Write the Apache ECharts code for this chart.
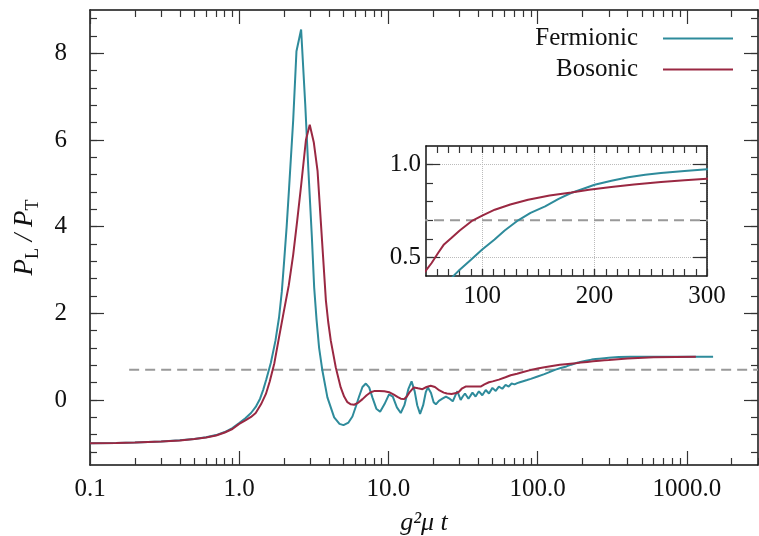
<!DOCTYPE html>
<html>
<head>
<meta charset="utf-8">
<script src="https://cdn.jsdelivr.net/npm/echarts@6.0.0/dist/echarts.min.js"></script>
<style>
  html, body { margin: 0; padding: 0; background: #fff; }
  #chart { width: 759px; height: 536px; }
</style>
</head>
<body>
<div id="chart"></div>
<script>
// data: [g^2 mu t, P_L/P_T]
const fermionic = [
  [0.1, -1.0], [0.15, -0.99], [0.2, -0.98], [0.3, -0.96], [0.4, -0.93], [0.5, -0.9],
  [0.6, -0.86], [0.7, -0.81], [0.8, -0.74], [0.9, -0.65], [1.0, -0.53], [1.1, -0.42],
  [1.2, -0.3], [1.29, -0.16], [1.38, 0.03], [1.45, 0.24], [1.52, 0.48], [1.63, 0.86],
  [1.75, 1.37], [1.85, 1.91], [1.93, 2.5], [2.0, 3.2], [2.08, 4.0], [2.16, 4.9],
  [2.3, 6.45], [2.42, 8.05], [2.6, 8.55], [2.77, 6.83], [2.91, 5.29], [3.07, 3.75],
  [3.18, 2.6], [3.3, 1.85], [3.43, 1.21], [3.61, 0.68], [3.9, 0.06], [4.33, -0.4],
  [4.7, -0.55], [5.0, -0.58], [5.4, -0.52], [5.74, -0.38], [6.05, -0.15], [6.36, 0.08],
  [6.7, 0.3], [7.06, 0.38], [7.43, 0.29], [7.83, 0.05], [8.3, -0.2], [8.8, -0.27],
  [9.4, -0.1], [10.1, 0.13], [10.7, 0.08], [11.4, -0.17], [12.1, -0.3], [12.8, -0.12],
  [13.6, 0.25], [14.3, 0.43], [15.0, 0.2], [15.6, -0.12], [16.3, -0.32], [17.1, -0.12],
  [17.8, 0.18], [18.4, 0.29], [19.3, 0.16], [20.1, -0.05], [20.8, -0.1], [21.8, -0.02],
  [23.0, 0.03], [24.3, 0.08], [25.5, 0.04], [27.0, -0.03], [28.2, 0.12], [29.0, 0.2],
  [30.5, 0.0], [31.5, 0.08], [32.6, 0.15], [34.4, 0.03], [35.5, 0.1], [36.6, 0.17],
  [38.4, 0.08], [40.4, 0.2], [42.6, 0.11], [44.9, 0.23], [47.2, 0.15], [49.8, 0.28],
  [52.4, 0.21], [55, 0.31], [58, 0.26], [61, 0.35], [64, 0.31], [67, 0.38], [70, 0.36],
  [73, 0.39], [76, 0.41], [80, 0.434], [85, 0.461], [90, 0.488], [100, 0.543],
  [111, 0.597], [120, 0.645], [132, 0.7], [143, 0.74], [156, 0.775], [168, 0.815],
  [179, 0.847], [190, 0.87], [200, 0.891], [215, 0.913], [230, 0.932], [245, 0.945],
  [259, 0.954], [280, 0.966], [300, 0.975], [350, 0.99], [420, 1.0], [600, 1.0],
  [1000, 1.0], [1500, 1.0]
];

const bosonic = [
  [0.1, -1.0], [0.15, -0.99], [0.2, -0.98], [0.3, -0.96], [0.4, -0.935], [0.5, -0.9],
  [0.6, -0.865], [0.7, -0.82], [0.8, -0.75], [0.9, -0.67], [1.0, -0.55], [1.1, -0.47],
  [1.2, -0.39], [1.29, -0.3], [1.4, -0.1], [1.51, 0.14], [1.6, 0.42], [1.72, 0.85],
  [1.85, 1.45], [1.98, 2.0], [2.15, 2.65], [2.3, 3.35], [2.45, 4.15], [2.6, 4.95],
  [2.8, 6.0], [2.97, 6.35], [3.16, 5.95], [3.35, 5.29], [3.52, 4.14], [3.65, 3.3],
  [3.81, 2.3], [3.95, 1.8], [4.11, 1.37], [4.44, 0.75], [4.79, 0.29], [5.05, 0.08],
  [5.31, -0.05], [5.6, -0.1], [5.89, -0.11], [6.3, -0.06], [6.71, 0.02], [7.15, 0.11],
  [7.61, 0.18], [8.1, 0.21], [8.68, 0.21], [9.4, 0.2], [10.1, 0.18], [10.8, 0.13],
  [11.5, 0.07], [12.1, 0.03], [12.7, 0.02], [13.3, 0.08], [13.8, 0.17], [14.8, 0.29],
  [15.8, 0.27], [16.9, 0.25], [18.0, 0.3], [19.2, 0.33], [20.5, 0.3], [22.0, 0.22],
  [23.5, 0.17], [24.7, 0.15], [26.5, 0.14], [28.5, 0.16], [29.7, 0.19], [31.0, 0.26],
  [32.9, 0.31], [37.0, 0.31], [41.5, 0.31], [44.0, 0.36], [47.2, 0.41], [50, 0.43],
  [55, 0.47], [60.9, 0.525], [66, 0.57], [72.8, 0.606], [80, 0.645], [90.5, 0.695],
  [100, 0.725], [111.2, 0.757], [125, 0.785], [140.8, 0.811], [160, 0.833], [179.3, 0.85],
  [195, 0.864], [214.8, 0.879], [235, 0.893], [259.1, 0.906], [280, 0.915], [300, 0.923],
  [400, 0.96], [600, 0.985], [850, 0.995], [1150, 1.0]
];

// horizontal reference line at 0.7
const threshold = [[0.183, 0.7], [3000, 0.7]];

// tick values
const xMajorTicks = [0.1, 1, 10, 100, 1000];
const xMinorTicks = [0.2, 0.3, 0.4, 0.5, 0.6, 0.7, 0.8, 0.9,
  2, 3, 4, 5, 6, 7, 8, 9, 20, 30, 40, 50, 60, 70, 80, 90,
  200, 300, 400, 500, 600, 700, 800, 900, 2000, 3000];
const yMajorTicks = [0, 2, 4, 6, 8];
const yMinorTicks = [-1.2, -0.8, -0.4, 0, 0.4, 0.8, 1.2, 1.6, 2, 2.4, 2.8, 3.2, 3.6, 4,
  4.4, 4.8, 5.2, 5.6, 6, 6.4, 6.8, 7.2, 7.6, 8, 8.4, 8.8];
const insetXMajor = [100, 200, 300];
const insetXMinor = [60, 70, 80, 90, 100, 110, 120, 130, 140, 150, 160, 170, 180, 190, 200,
  210, 220, 230, 240, 250, 260, 270, 280, 290];
const insetYMajor = [0.5, 1.0];
const insetYMinor = [0.5, 0.6, 0.7, 0.8, 0.9, 1.0];

const FONT = 'Liberation Serif';
const TEAL = '#2e8b9b';
const RED = '#9a2842';

const chart = echarts.init(document.getElementById('chart'));

const noLine = { show: false, onZero: false };
const axisLine = { show: true, onZero: false, lineStyle: { color: '#111', width: 1.5 } };

function tickAxis(base, ticks, len, extra) {
  return Object.assign({
    axisLine: noLine,
    axisLabel: { show: false },
    splitLine: { show: false },
    axisTick: { show: true, inside: true, length: len, customValues: ticks,
      lineStyle: { color: '#333', width: 1.2 } }
  }, base, extra || {});
}

const mainX = { type: 'log', logBase: 10, min: 0.1, max: 3000, gridIndex: 0 };
const mainY = { type: 'value', min: -1.5, max: 9, gridIndex: 0 };
const insetX = { type: 'value', min: 50, max: 300, gridIndex: 1 };
const insetY = { type: 'value', min: 0.4, max: 1.1, gridIndex: 1 };

const option = {
  backgroundColor: '#fff',
  animation: false,
  grid: [
    { left: 90, top: 10, right: 1, bottom: 71, outerBoundsMode: 'none', containLabel: false },
    { left: 426, top: 146, width: 281, height: 130, outerBoundsMode: 'none', containLabel: false,
      show: true, backgroundColor: '#fff', borderWidth: 0 }
  ],
  legend: {
    data: ['Fermionic', 'Bosonic'],
    orient: 'vertical',
    align: 'right',
    right: 26,
    top: 26,
    padding: 0,
    icon: 'rect',
    itemWidth: 70,
    itemHeight: 2,
    itemGap: 6,
    textStyle: { fontFamily: FONT, fontSize: 25, color: '#111', padding: [0, 20, 0, 0] }
  },
  xAxis: [
    tickAxis(mainX, xMajorTicks, 14, {
      position: 'bottom',
      axisLine: axisLine,
      name: 'g²μ t',
      nameLocation: 'middle',
      nameGap: 45,
      nameTextStyle: { fontFamily: FONT, fontSize: 26, fontStyle: 'italic', color: '#111' },
      axisLabel: {
        show: true, customValues: xMajorTicks, margin: 12,
        fontFamily: FONT, fontSize: 25, color: '#111',
        formatter: v => Number(v).toFixed(1)
      }
    }),
    tickAxis(mainX, xMinorTicks, 7, { position: 'bottom' }),
    tickAxis(mainX, xMajorTicks, 14, { position: 'top', axisLine: axisLine }),
    tickAxis(mainX, xMinorTicks, 7, { position: 'top' }),
    tickAxis(insetX, insetXMajor, 7, {
      position: 'bottom',
      axisLine: axisLine,
      splitLine: { show: true, lineStyle: { color: '#bbb', type: 'dotted', width: 1 } },
      axisLabel: {
        show: true, customValues: insetXMajor, margin: 8,
        fontFamily: FONT, fontSize: 25, color: '#111'
      }
    }),
    tickAxis(insetX, insetXMinor, 7, { position: 'bottom' }),
    tickAxis(insetX, insetXMinor, 7, { position: 'top', axisLine: axisLine })
  ],
  yAxis: [
    tickAxis(mainY, yMajorTicks, 14, {
      position: 'left',
      axisLine: axisLine,
      name: '{i|P}{s|L}{i| / P}{s|T}',
      nameLocation: 'middle',
      nameGap: 48,
      nameTextStyle: {
        rich: {
          i: { fontFamily: FONT, fontSize: 27, fontStyle: 'italic', color: '#111', lineHeight: 34 },
          s: { fontFamily: FONT, fontSize: 18, color: '#111', lineHeight: 18, verticalAlign: 'bottom' }
        }
      },
      axisLabel: {
        show: true, customValues: yMajorTicks, margin: 23,
        fontFamily: FONT, fontSize: 25, color: '#111'
      }
    }),
    tickAxis(mainY, yMinorTicks, 7, { position: 'left' }),
    tickAxis(mainY, yMajorTicks, 14, { position: 'right', axisLine: axisLine }),
    tickAxis(mainY, yMinorTicks, 7, { position: 'right' }),
    tickAxis(insetY, insetYMajor, 14, {
      position: 'left',
      axisLine: axisLine,
      splitLine: { show: true, lineStyle: { color: '#bbb', type: 'dotted', width: 1 } },
      axisLabel: {
        show: true, customValues: insetYMajor, margin: 5,
        fontFamily: FONT, fontSize: 25, color: '#111',
        formatter: v => Number(v).toFixed(1)
      }
    }),
    tickAxis(insetY, insetYMinor, 7, { position: 'left' }),
    tickAxis(insetY, insetYMajor, 14, { position: 'right', axisLine: axisLine }),
    tickAxis(insetY, insetYMinor, 7, { position: 'right' })
  ],
  series: [
    {
      name: 'ref', type: 'line', data: threshold, xAxisIndex: 0, yAxisIndex: 0,
      symbol: 'none', lineStyle: { color: '#999', width: 2, type: [10, 6] }, z: 1
    },
    {
      name: 'Fermionic', type: 'line', data: fermionic, xAxisIndex: 0, yAxisIndex: 0,
      symbol: 'none', color: TEAL, lineStyle: { color: TEAL, width: 2 }, z: 2
    },
    {
      name: 'Bosonic', type: 'line', data: bosonic, xAxisIndex: 0, yAxisIndex: 0,
      symbol: 'none', color: RED, lineStyle: { color: RED, width: 2 }, z: 3
    },
    {
      name: 'ref', type: 'line', data: threshold, xAxisIndex: 4, yAxisIndex: 4,
      symbol: 'none', lineStyle: { color: '#999', width: 2, type: [10, 6] }, z: 4
    },
    {
      name: 'Fermionic', type: 'line', data: fermionic, xAxisIndex: 4, yAxisIndex: 4,
      symbol: 'none', color: TEAL, lineStyle: { color: TEAL, width: 2 }, z: 5
    },
    {
      name: 'Bosonic', type: 'line', data: bosonic, xAxisIndex: 4, yAxisIndex: 4,
      symbol: 'none', color: RED, lineStyle: { color: RED, width: 2 }, z: 6
    }
  ]
};

chart.setOption(option);
</script>
</body>
</html>
